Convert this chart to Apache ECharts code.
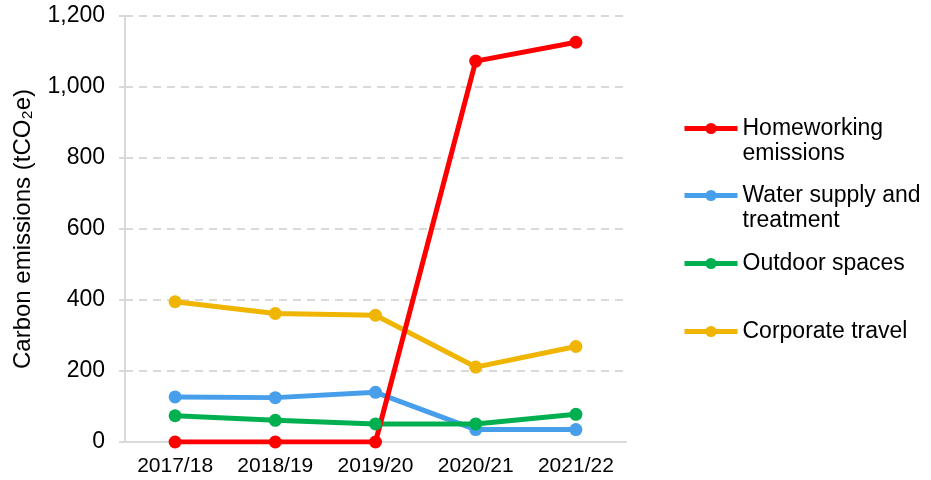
<!DOCTYPE html>
<html>
<head>
<meta charset="utf-8">
<script src="https://cdn.jsdelivr.net/npm/echarts@6/dist/echarts.min.js"></script>
<style>
  html, body { margin: 0; padding: 0; background: #fff; }
  #main { width: 931px; height: 480px; }
</style>
</head>
<body>
<div id="main"></div>
<script>
// data
const years = ['2017/18', '2018/19', '2019/20', '2020/21', '2021/22'];
const homeworking = [0, 0, 0, 1073, 1126];
const water = [127, 125, 140, 35, 35];
const outdoor = [74, 61, 51, 51, 78];
const travel = [395, 362, 357, 211, 269];
const yTicks = [0, 200, 400, 600, 800, 1000, 1200];

const names = ['Homeworking emissions', 'Water supply and treatment', 'Outdoor spaces', 'Corporate travel'];
// leading blank line keeps the first text line level with the icon
const labels = {
  'Homeworking emissions': '\nHomeworking\nemissions',
  'Water supply and treatment': '\nWater supply and\ntreatment',
  'Outdoor spaces': 'Outdoor spaces',
  'Corporate travel': 'Corporate travel'
};
const colors = {
  'Homeworking emissions': '#ff0000',
  'Water supply and treatment': '#479fec',
  'Outdoor spaces': '#00b050',
  'Corporate travel': '#efb500'
};

const font = '"Liberation Sans", Arial, sans-serif';

function mkLegend(name, top) {
  return {
    data: [name],
    left: 682,
    top: top,
    padding: 0,
    itemWidth: 53,
    itemHeight: 14,
    formatter: n => labels[n],
    lineStyle: { width: 5 },
    textStyle: { fontFamily: font, fontSize: 23, color: '#000', lineHeight: 25 }
  };
}

function mkSeries(name, data) {
  return {
    name: name,
    type: 'line',
    data: data,
    symbol: 'circle',
    symbolSize: 13,
    lineStyle: { width: 5, color: colors[name] },
    itemStyle: { color: colors[name] },
    emphasis: { disabled: true }
  };
}

let myChart = echarts.init(document.getElementById('main'));
myChart.setOption({
  animation: false,
  textStyle: { fontFamily: font },
  grid: { left: 125, right: 305, top: 16, bottom: 38 },
  legend: [
    mkLegend(names[0], 91),
    mkLegend(names[1], 158),
    mkLegend(names[2], 251),
    mkLegend(names[3], 319)
  ],
  xAxis: {
    type: 'category',
    data: years,
    boundaryGap: true,
    axisLine: { lineStyle: { color: '#d9d9d9', width: 2 } },
    axisTick: { show: false },
    axisLabel: { color: '#000', fontSize: 21, fontFamily: font, margin: 14 }
  },
  yAxis: {
    type: 'value',
    min: yTicks[0],
    max: yTicks[yTicks.length - 1],
    interval: 200,
    name: 'Carbon emissions (tCO\u2082e)',
    nameLocation: 'middle',
    nameGap: 90,
    nameTextStyle: { color: '#000', fontSize: 24, fontFamily: font },
    axisLine: { show: true, lineStyle: { color: '#d9d9d9', width: 2 } },
    axisTick: { show: true, length: 6, lineStyle: { color: '#d9d9d9', width: 2 } },
    axisLabel: {
      color: '#000', fontSize: 23, fontFamily: font, margin: 20,
      formatter: v => v.toLocaleString('en-US')
    },
    splitLine: { lineStyle: { color: '#d9d9d9', width: 2, type: [8, 6] } }
  },
  series: [
    mkSeries(names[1], water),
    mkSeries(names[2], outdoor),
    mkSeries(names[3], travel),
    mkSeries(names[0], homeworking)
  ]
});
</script>
</body>
</html>
